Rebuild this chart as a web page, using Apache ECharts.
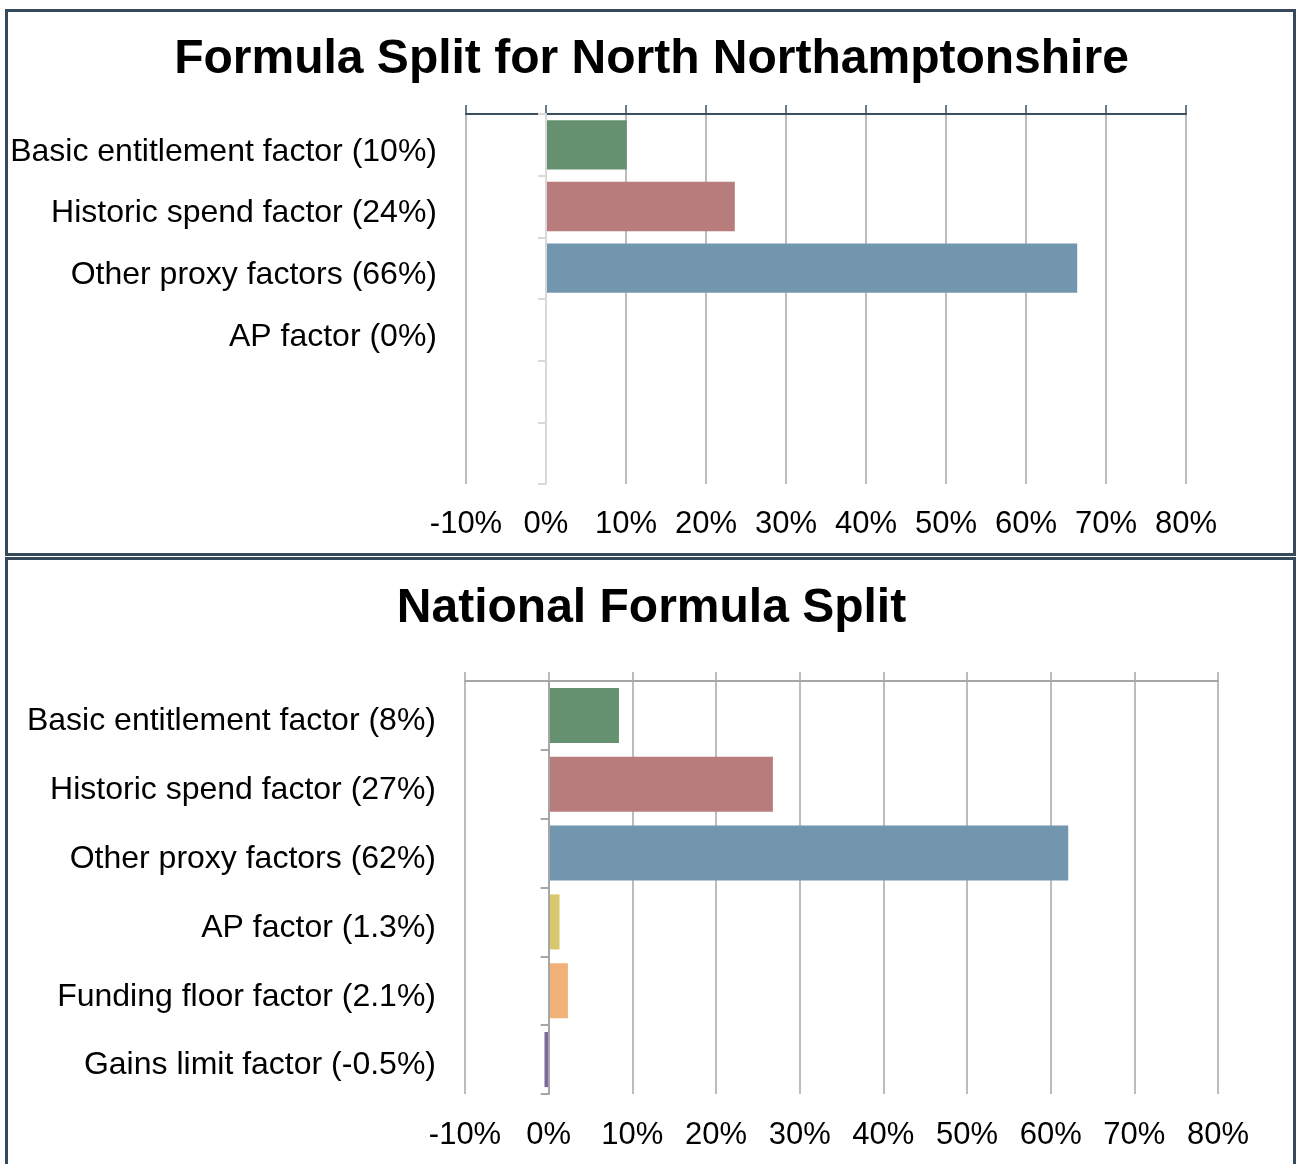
<!DOCTYPE html>
<html>
<head>
<meta charset="utf-8">
<script src="https://cdn.jsdelivr.net/npm/echarts@6/dist/echarts.min.js"></script>
<style>
html,body{margin:0;padding:0;background:#fff;}
#chart{width:1297px;height:1164px;}
</style>
</head>
<body>
<div id="chart"></div>
<script>
// ---- Data ----
const topTitle = 'Formula Split for North Northamptonshire';
const topCategories = ['Basic entitlement factor (10%)', 'Historic spend factor (24%)', 'Other proxy factors (66%)', 'AP factor (0%)', ' ', '  '];
const topValues = [10.1, 23.6, 66.4, 0, null, null];

const natTitle = 'National Formula Split';
const natCategories = ['Basic entitlement factor (8%)', 'Historic spend factor (27%)', 'Other proxy factors (62%)', 'AP factor (1.3%)', 'Funding floor factor (2.1%)', 'Gains limit factor (-0.5%)'];
const natValues = [8.4, 26.8, 62.1, 1.3, 2.3, -0.5];

const barColors = ['#659170', '#b87c7d', '#7396af', '#d9c86b', '#f1b178', '#7a6a9b'];
const axisMin = -10, axisMax = 80, axisStep = 10;

const FONT = '"Liberation Sans", Arial, sans-serif';
const dark = '#36495a';

function xAxesFor(gridIndex, lineColor, labelMargin) {
  return [
    { type: 'value', gridIndex, position: 'top', min: axisMin, max: axisMax, interval: axisStep,
      axisLine: { show: true, onZero: false, lineStyle: { color: lineColor, width: 2 } },
      axisTick: { show: true, length: 9, lineStyle: { color: lineColor, width: 1.5 } },
      splitLine: { show: true, lineStyle: { color: '#a6a6a6', width: 1.5 } },
      axisLabel: { show: false } },
    { type: 'value', gridIndex, position: 'bottom', min: axisMin, max: axisMax, interval: axisStep,
      axisLine: { show: false, onZero: false }, axisTick: { show: false }, splitLine: { show: false },
      axisLabel: { show: true, margin: labelMargin, fontSize: 31, color: '#000', fontFamily: FONT, formatter: '{value}%' } }
  ];
}
function yAxesFor(gridIndex, cats, lineColor, shift) {
  return [
    { type: 'category', gridIndex, data: cats, inverse: true, position: 'left',
      axisLine: { show: false, onZero: false }, axisTick: { show: false },
      axisLabel: { show: true, margin: 29, color: '#000',
        formatter: function (v) { return '{a|' + v + '}'; },
        rich: { a: { fontSize: 32, fontFamily: FONT, color: '#000', padding: [shift * 2, 0, 0, 0] } } } },
    { type: 'category', gridIndex, data: cats, inverse: true, position: 'right', z: 3,
      axisLine: { show: true, onZero: true, lineStyle: { color: lineColor, width: 2 } },
      axisTick: { show: true, inside: true, length: 8, lineStyle: { color: lineColor, width: 2 } },
      axisLabel: { show: false }, splitLine: { show: false } }
  ];
}
function dataWithColors(vals) {
  return vals.map((v, i) => ({ value: v, itemStyle: { color: barColors[i] } }));
}

const chart = echarts.init(document.getElementById('chart'), null, { renderer: 'canvas' });
chart.setOption({
  animation: false,
  backgroundColor: '#fff',
  graphic: [
    { type: 'rect', shape: { x: 6.5, y: 10.5, width: 1288, height: 544 }, style: { fill: 'none', stroke: dark, lineWidth: 3 }, z: 10 },
    { type: 'rect', shape: { x: 6.5, y: 558.5, width: 1288, height: 640 }, style: { fill: 'none', stroke: dark, lineWidth: 3 }, z: 10 },
    { type: 'text', x: 651.5, y: 60, style: { text: topTitle, font: 'bold 48px ' + FONT, fill: '#000', align: 'center', verticalAlign: 'middle' } },
    { type: 'text', x: 651.5, y: 609, style: { text: natTitle, font: 'bold 48px ' + FONT, fill: '#000', align: 'center', verticalAlign: 'middle' } }
  ],
  grid: [
    { left: 466, right: 111, top: 114, bottom: 680 },
    { left: 465, right: 79, top: 681, bottom: 70 }
  ],
  xAxis: [].concat(xAxesFor(0, '#3b4f5e', 25), xAxesFor(1, '#a6a6a6', 26)),
  yAxis: [].concat(yAxesFor(0, topCategories, '#d9d9d9', 7), yAxesFor(1, natCategories, '#a6a6a6', 6)),
  series: [
    { type: 'bar', xAxisIndex: 0, yAxisIndex: 0, barCategoryGap: '20%', data: dataWithColors(topValues) },
    { type: 'bar', xAxisIndex: 2, yAxisIndex: 2, barCategoryGap: '20%', data: dataWithColors(natValues) }
  ]
});
</script>
</body>
</html>
